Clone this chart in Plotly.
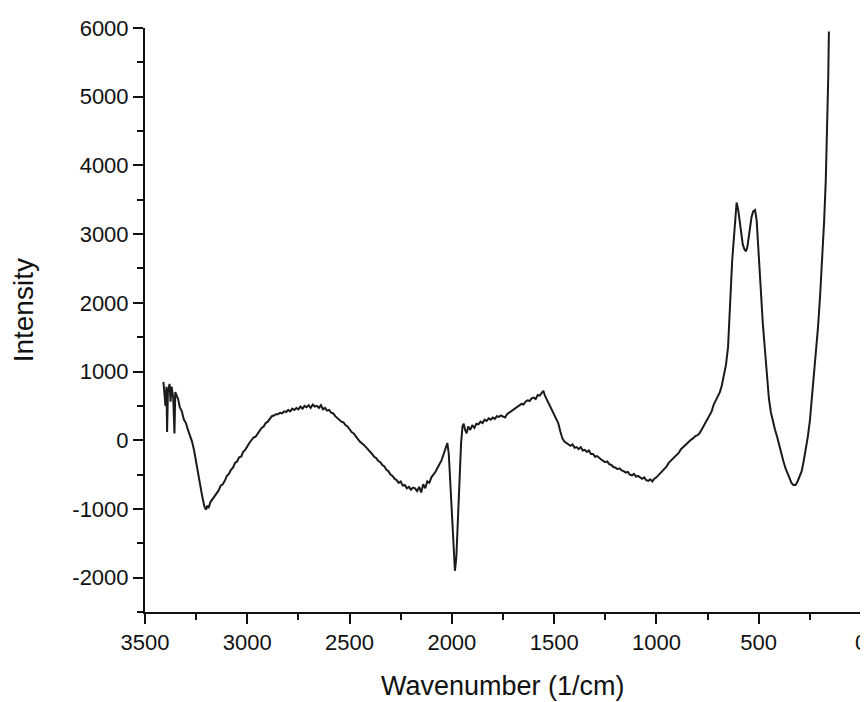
import plotly.graph_objects as go

wavenumber = [
    3410, 3400, 3395, 3392, 3388, 3380, 3375, 3370, 3362, 3356, 3352, 3345, 3338, 3330, 3320, 3310,
    3300, 3290, 3280, 3270, 3260, 3250, 3240, 3230, 3220, 3210, 3202, 3195, 3190, 3180, 3170, 3160,
    3150, 3140, 3130, 3120, 3110, 3100, 3090, 3080, 3070, 3060, 3050, 3040, 3030, 3020, 3010, 3000,
    2990, 2980, 2970, 2960, 2950, 2940, 2930, 2920, 2910, 2900, 2890, 2880, 2870, 2860, 2850, 2840,
    2830, 2820, 2810, 2800, 2790, 2780, 2770, 2760, 2750, 2740, 2730, 2720, 2710, 2700, 2690, 2680,
    2670, 2660, 2650, 2640, 2630, 2620, 2610, 2600, 2590, 2580, 2570, 2560, 2550, 2540, 2530, 2520,
    2510, 2500, 2490, 2480, 2470, 2460, 2450, 2440, 2430, 2420, 2410, 2400, 2390, 2380, 2370, 2360,
    2350, 2340, 2330, 2320, 2310, 2300, 2290, 2280, 2270, 2260, 2250, 2240, 2230, 2220, 2210, 2200,
    2190, 2180, 2170, 2160, 2150, 2140, 2130, 2120, 2110, 2100, 2090, 2080, 2070, 2060, 2050, 2040,
    2030, 2022, 2015, 2008, 2000, 1993, 1985, 1978, 1970, 1962, 1955, 1948, 1942, 1935, 1928, 1920,
    1910, 1900, 1890, 1880, 1870, 1860, 1850, 1840, 1830, 1820, 1810, 1800, 1790, 1780, 1770, 1760,
    1750, 1740, 1730, 1720, 1710, 1700, 1690, 1680, 1670, 1660, 1650, 1640, 1630, 1620, 1610, 1600,
    1590, 1580, 1570, 1560, 1553, 1545, 1530, 1520, 1510, 1500, 1490, 1480, 1470, 1460, 1450, 1440,
    1430, 1420, 1410, 1400, 1390, 1380, 1370, 1360, 1350, 1340, 1330, 1320, 1310, 1300, 1290, 1280,
    1270, 1260, 1250, 1240, 1230, 1220, 1210, 1200, 1190, 1180, 1170, 1160, 1150, 1140, 1130, 1120,
    1110, 1100, 1090, 1080, 1070, 1060, 1050, 1040, 1030, 1020, 1010, 1000, 990, 980, 970, 960,
    950, 940, 930, 920, 910, 900, 890, 880, 870, 860, 850, 840, 830, 820, 810, 800,
    790, 780, 770, 760, 750, 740, 730, 720, 710, 700, 690, 680, 670, 660, 650, 645,
    640, 635, 630, 625, 620, 615, 608, 600, 592, 585, 578, 570, 562, 555, 545, 535,
    527, 518, 510, 503, 495, 488, 480, 470, 460, 450, 440, 430, 420, 410, 400, 390,
    380, 370, 360, 350, 340, 330, 320, 310, 300, 290, 280, 270, 260, 250, 240, 230,
    220, 210, 200, 190, 180, 172, 165, 160, 157,
]

intensity = [
    850, 500, 780, 120, 700, 820, 560, 780, 620, 100, 700, 640, 600, 480, 420, 300,
    250, 150, 60, -20, -150, -330, -480, -650, -820, -960, -1010, -950, -990, -900, -860, -820,
    -770, -730, -660, -640, -590, -520, -490, -430, -400, -330, -310, -250, -240, -170, -140, -80,
    -40, 0, 40, 50, 90, 140, 180, 200, 250, 270, 320, 350, 360, 380, 380, 400,
    390, 420, 410, 440, 420, 460, 440, 470, 450, 490, 460, 500, 480, 510, 470, 520,
    490, 500, 470, 510, 450, 470, 430, 440, 400, 390, 350, 320, 300, 270, 260, 220,
    200, 150, 120, 100, 50, 20, -20, -40, -70, -100, -130, -170, -200, -240, -260, -300,
    -320, -360, -380, -430, -450, -500, -520, -560, -580, -620, -600, -660, -650, -700, -680, -720,
    -690, -700, -740, -680, -760, -640, -700, -600, -620, -540, -500, -460, -400, -350, -290, -200,
    -100, -40, -200, -600, -1100, -1600, -1900, -1700, -1100, -500, -50, 200, 240, 150, 100, 200,
    150, 220, 180, 240, 230, 270, 250, 300, 280, 320, 300, 330, 310, 350, 340, 360,
    350, 330, 380, 400, 430, 440, 470, 480, 500, 530, 520, 560, 580, 570, 610, 620,
    600, 660, 650, 700, 720, 650, 560, 480, 430, 360, 300, 250, 130, 30, -20, -40,
    -60, -80, -60, -110, -100, -130, -100, -150, -140, -170, -150, -200, -200, -240, -230, -260,
    -280, -300, -320, -310, -350, -360, -390, -400, -420, -410, -440, -450, -470, -460, -500, -510,
    -490, -530, -520, -540, -560, -540, -580, -590, -570, -600, -560, -540, -510, -470, -440, -410,
    -380, -330, -300, -270, -240, -200, -180, -130, -100, -70, -40, -20, 10, 30, 60, 70,
    100, 150, 200, 250, 300, 350, 420, 520, 580, 640, 700, 800, 950, 1100, 1350, 1700,
    2000, 2300, 2600, 2800, 3000, 3250, 3460, 3350, 3150, 2950, 2850, 2780, 2750, 2820, 3050, 3250,
    3330, 3350, 3200, 2900, 2500, 2100, 1700, 1300, 900, 600, 400, 250, 150, 50, -80, -200,
    -300, -400, -480, -560, -620, -650, -650, -600, -520, -450, -300, -150, 50, 280, 600, 900,
    1250, 1650, 2100, 2600, 3200, 3800, 4600, 5300, 5950,
]

x_tick_vals = [3500, 3000, 2500, 2000, 1500, 1000, 500, 0]
y_tick_vals = [-2000, -1000, 0, 1000, 2000, 3000, 4000, 5000, 6000]
x_title = "Wavenumber (1/cm)"
y_title = "Intensity"

FONT = "Liberation Sans, Arial, sans-serif"
INK = "#111111"

fig = go.Figure()
fig.add_trace(go.Scatter(
    x=wavenumber, y=intensity, mode="lines",
    line=dict(color="#1a1a1a", width=2),
    showlegend=False,
))

# page body has an 8px default margin, so the figure is sized to fit the window
fig.update_layout(
    width=860, height=694,
    margin=dict(l=137, r=7, t=20, b=90),
    paper_bgcolor="white", plot_bgcolor="white",
    font=dict(family=FONT, color=INK),
    annotations=[
        dict(text=x_title, xref="paper", yref="paper", x=0.5, y=-0.126,
             xanchor="center", yanchor="middle", showarrow=False,
             font=dict(size=27, family=FONT, color=INK)),
        dict(text=y_title, xref="paper", yref="paper", x=-0.170, y=0.517,
             xanchor="center", yanchor="middle", showarrow=False, textangle=-90,
             font=dict(size=28, family=FONT, color=INK)),
    ],
)

fig.update_xaxes(
    range=[3500, 0], autorange=False, automargin=False,
    tickvals=x_tick_vals, ticktext=[str(v) for v in x_tick_vals],
    showgrid=False, zeroline=False,
    showline=True, linecolor=INK, linewidth=2,
    ticks="outside", ticklen=10, tickwidth=2, tickcolor=INK,
    minor=dict(dtick=250, tick0=0, ticks="outside", ticklen=6, tickwidth=2, tickcolor=INK, showgrid=False),
    tickfont=dict(size=22, family=FONT, color=INK),
)

fig.update_yaxes(
    range=[-2500, 6000], autorange=False, automargin=False,
    tickvals=y_tick_vals, ticktext=[str(v) for v in y_tick_vals],
    showgrid=False, zeroline=False,
    showline=True, linecolor=INK, linewidth=2,
    ticks="outside", ticklen=10, tickwidth=2, tickcolor=INK,
    minor=dict(dtick=500, tick0=0, ticks="outside", ticklen=6, tickwidth=2, tickcolor=INK, showgrid=False),
    tickfont=dict(size=22, family=FONT, color=INK),
)

fig.write_html("out.html")
